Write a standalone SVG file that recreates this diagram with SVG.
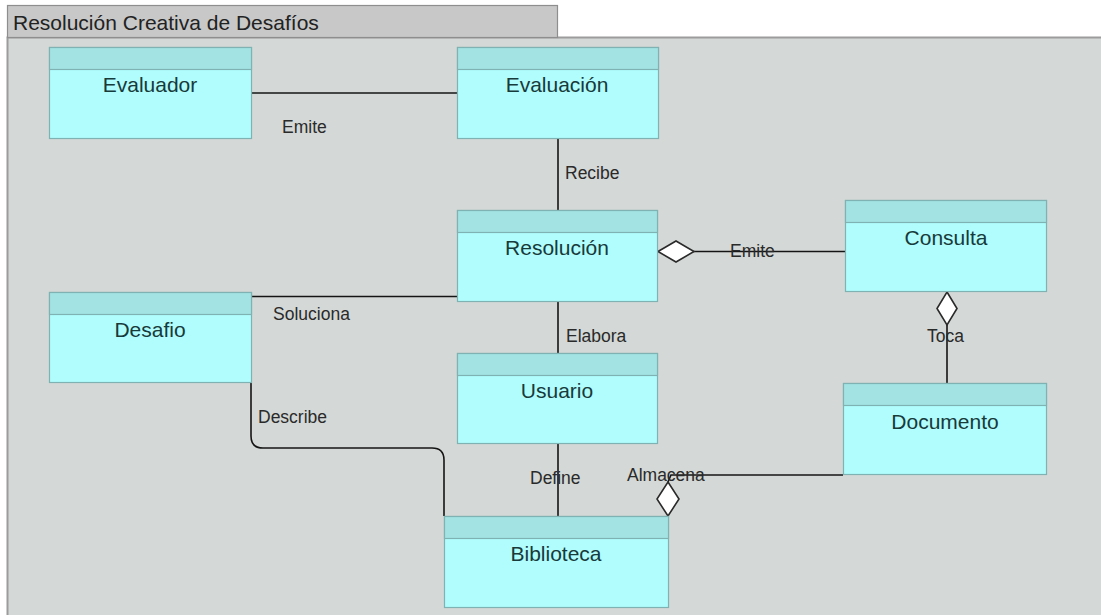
<svg xmlns="http://www.w3.org/2000/svg" width="1101" height="615" viewBox="0 0 1101 615">
<style>
.body{fill:#b1fdfd;stroke:#7fb3b3;stroke-width:1.2}
.head{fill:#a3e3e3;stroke:#7fb3b3;stroke-width:1.2}
.nt{font-family:"Liberation Sans",Arial,sans-serif;font-size:21px;fill:#173a3a;text-anchor:middle}
.lt{font-family:"Liberation Sans",Arial,sans-serif;font-size:17.5px;fill:#2a2a2a}
.ln{fill:none;stroke:#141414;stroke-width:1.6}
.dia{fill:#ffffff;stroke:#2a2a2a;stroke-width:1.6}
</style>
<rect x="0" y="0" width="1101" height="615" fill="#ffffff"/>
<g id="frame">
<rect x="7.5" y="37.5" width="1100" height="590" fill="#d4d8d6" stroke="#9c9c9c" stroke-width="2"/>
<rect x="7.5" y="5.5" width="550" height="32" fill="#c7c8c7" stroke="#8e8e8e" stroke-width="1.2"/>
<text x="13" y="30" font-family="Liberation Sans, Arial, sans-serif" font-size="21" fill="#222">Resolución Creativa de Desafíos</text>
</g>
<g id="connectors">
<path class="ln" d="M252,93 H457"/>
<path class="ln" d="M558,139 V210"/>
<path class="ln" d="M693,251.5 H845"/>
<path class="ln" d="M252,296.5 H457"/>
<path class="ln" d="M558,302 V353"/>
<path class="ln" d="M947,325 V383"/>
<path class="ln" d="M251,383 V436 Q251,448 263,448 H432 Q444,448 444,460 V516"/>
<path class="ln" d="M558,444 V516"/>
<path class="ln" d="M668,482 L671,475 H843"/>
<polygon class="dia" points="658,251.5 676,241 694,251.5 676,262"/>
<polygon class="dia" points="947,292 957,308.5 947,325 937,308.5"/>
<polygon class="dia" points="668,482 679,499 668,516 657,499"/>
<text class="lt" x="282" y="133">Emite</text>
<text class="lt" x="565" y="179">Recibe</text>
<text class="lt" x="730" y="257">Emite</text>
<text class="lt" x="273" y="320">Soluciona</text>
<text class="lt" x="566" y="342">Elabora</text>
<text class="lt" x="927" y="342">Toca</text>
<text class="lt" x="258" y="423">Describe</text>
<text class="lt" x="530" y="484">Define</text>
<text class="lt" x="627" y="481">Almacena</text>
</g>
<g id="evaluador">
<rect class="body" x="49.5" y="47.5" width="202" height="91"/>
<rect class="head" x="49.5" y="47.5" width="202" height="22"/>
<text class="nt" x="150" y="92">Evaluador</text>
</g>
<g id="evaluacion">
<rect class="body" x="457.5" y="47.5" width="201" height="91"/>
<rect class="head" x="457.5" y="47.5" width="201" height="22"/>
<text class="nt" x="557" y="92">Evaluación</text>
</g>
<g id="resolucion">
<rect class="body" x="457.5" y="210.5" width="200" height="91"/>
<rect class="head" x="457.5" y="210.5" width="200" height="22"/>
<text class="nt" x="557" y="255">Resolución</text>
</g>
<g id="consulta">
<rect class="body" x="845.5" y="200.5" width="201" height="91"/>
<rect class="head" x="845.5" y="200.5" width="201" height="22"/>
<text class="nt" x="946" y="245">Consulta</text>
</g>
<g id="desafio">
<rect class="body" x="49.5" y="292.5" width="202" height="90"/>
<rect class="head" x="49.5" y="292.5" width="202" height="22"/>
<text class="nt" x="150" y="337">Desafio</text>
</g>
<g id="usuario">
<rect class="body" x="457.5" y="353.5" width="200" height="90"/>
<rect class="head" x="457.5" y="353.5" width="200" height="22"/>
<text class="nt" x="557" y="398">Usuario</text>
</g>
<g id="documento">
<rect class="body" x="843.5" y="383.5" width="203" height="91"/>
<rect class="head" x="843.5" y="383.5" width="203" height="22"/>
<text class="nt" x="945" y="429">Documento</text>
</g>
<g id="biblioteca">
<rect class="body" x="444.5" y="516.5" width="224" height="91"/>
<rect class="head" x="444.5" y="516.5" width="224" height="22"/>
<text class="nt" x="556" y="561">Biblioteca</text>
</g>
</svg>
